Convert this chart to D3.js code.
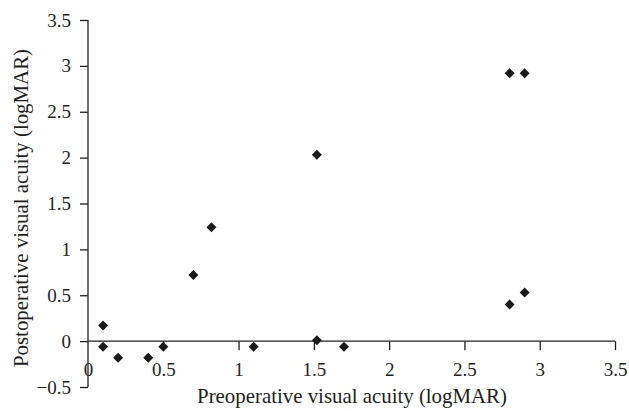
<!DOCTYPE html>
<html><head><meta charset="utf-8">
<script src="https://cdn.jsdelivr.net/npm/d3@7"></script>
<style>body{margin:0;background:#fff}</style>
</head><body>
<svg id="c" width="629" height="411"></svg>
<script>
const preop  = [0.1, 0.1, 0.2, 0.4, 0.5, 0.7, 0.82, 1.1, 1.52, 1.52, 1.7, 2.8, 2.8, 2.9, 2.9];
const postop = [0.17, -0.06, -0.18, -0.18, -0.06, 0.72, 1.24, -0.06, 2.03, 0.01, -0.06, 2.92, 0.40, 2.92, 0.53];
const xTicks = [0, 0.5, 1, 1.5, 2, 2.5, 3, 3.5];
const yTicks = [-0.5, 0, 0.5, 1, 1.5, 2, 2.5, 3, 3.5];
const xTitle = "Preoperative visual acuity (logMAR)";
const yTitle = "Postoperative visual acuity (logMAR)";

const svg = d3.select("#c");
const ink = "#231f20";
const font = "'Liberation Serif', 'DejaVu Serif', serif";
const x = d3.scaleLinear().domain([0, 3.5]).range([88, 615]);
const y = d3.scaleLinear().domain([-0.5, 3.5]).range([387, 20]);

const xa = svg.append("g").attr("transform", `translate(0,${y(0)})`)
  .call(d3.axisBottom(x).tickValues(xTicks).tickSize(9).tickPadding(12).tickFormat(d3.format("")));
const ya = svg.append("g").attr("transform", `translate(${x(0)},0)`)
  .call(d3.axisLeft(y).tickValues(yTicks).tickSize(8).tickPadding(9).tickFormat(d => d < 0 ? "\u2212" + Math.abs(d) : d));
[xa, ya].forEach(g => {
  g.select(".domain").attr("stroke", ink).attr("stroke-width", 1.3);
  g.selectAll(".tick line").attr("stroke", ink).attr("stroke-width", 1.3);
  g.selectAll("text").attr("fill", ink).style("font-family", font).style("font-size", "19px");
});
xa.select(".domain").attr("d", `M${x(0)},0H${x(3.5)}`);
ya.select(".domain").attr("d", `M0,${y(-0.5)}V${y(3.5)}`);
xa.selectAll(".tick").filter(d => d === 0).select("line").remove();

const pts = preop.map((v, i) => [v, postop[i]]);
svg.append("g").selectAll("path").data(pts).enter().append("path")
  .attr("transform", d => `translate(${x(d[0])},${y(d[1])})`)
  .attr("d", "M0,-5L5,0L0,5L-5,0Z")
  .attr("fill", "#1a1a1a");

function fit(sel, target) {
  sel.style("font-size", "20px");
  const w = sel.node().getComputedTextLength();
  sel.style("font-size", (20 * target / w).toFixed(2) + "px");
}
const xt = svg.append("text").attr("x", 352).attr("y", 403).attr("text-anchor", "middle")
  .attr("fill", ink).style("font-family", font).text(xTitle);
fit(xt, 310);
const yt = svg.append("text").attr("transform", "translate(28,208) rotate(-90)").attr("text-anchor", "middle")
  .attr("fill", ink).style("font-family", font).text(yTitle);
yt.style("font-size", xt.style("font-size"));
</script>
</body></html>
